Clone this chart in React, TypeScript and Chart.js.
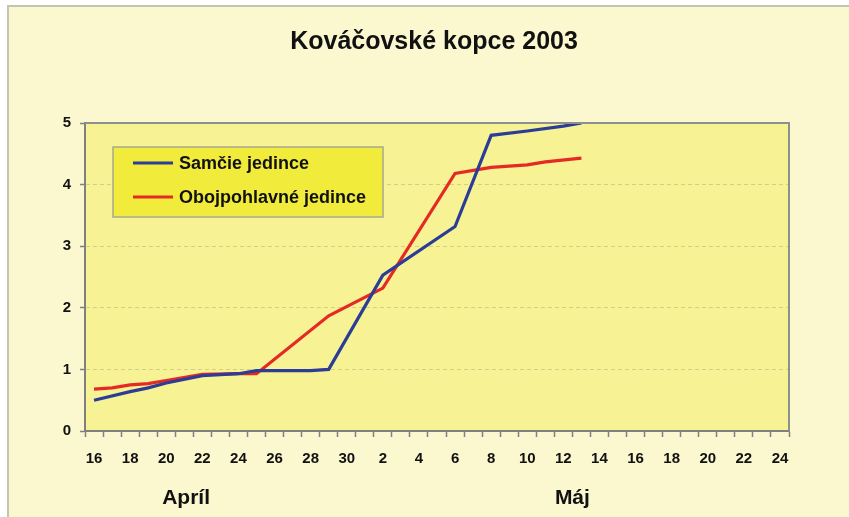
import { useEffect, useRef } from 'react';
import { Chart, registerables } from 'chart.js';

Chart.register(...registerables);

const chartTitle = 'Kováčovské kopce 2003';
const seriesNames = ['Samčie jedince', 'Obojpohlavné jedince'];
const monthLabels = ['Apríl', 'Máj'];
// category index (fractional) under which the month label is centred
const monthLabelAt = [5.1, 26.5];

const dayLabels = [
  '16', '17', '18', '19', '20', '21', '22', '23', '24', '25', '26', '27', '28', '29', '30',
  '1', '2', '3', '4', '5', '6', '7', '8', '9', '10', '11', '12', '13', '14', '15', '16',
  '17', '18', '19', '20', '21', '22', '23', '24',
];

const samcie = [
  0.5, null, 0.64, 0.7, 0.78, null, 0.9, null, 0.93, 0.98, null, null, 0.98, 1.0, null,
  null, 2.53, null, null, null, 3.32, null, 4.8, null, 4.87, null, 4.95, 5.0, null, null, null,
  null, null, null, null, null, null, null, null,
];

const obojpohlavne = [
  0.68, 0.7, 0.75, 0.77, 0.82, null, 0.92, null, 0.93, 0.93, null, null, null, 1.87, null,
  null, 2.32, null, null, null, 4.18, null, 4.28, null, 4.32, 4.37, null, 4.43, null, null, null,
  null, null, null, null, null, null, null, null,
];

const seriesColors = ['#2b3d96', '#e52a26'];

const FONT = '"Liberation Sans", Arial, sans-serif';

const decorPlugin = {
  id: 'decor',
  beforeDraw(chart: any) {
    const { ctx, width, height, chartArea } = chart;
    ctx.save();
    ctx.fillStyle = '#ffffff';
    ctx.fillRect(0, 0, width, height);
    ctx.fillStyle = '#fbf7cf';
    ctx.fillRect(8, 6, width - 8, height - 6);
    ctx.strokeStyle = '#c4c4b4';
    ctx.lineWidth = 2;
    ctx.beginPath();
    ctx.moveTo(8, height);
    ctx.lineTo(8, 6);
    ctx.lineTo(width, 6);
    ctx.stroke();
    ctx.fillStyle = '#f7f293';
    ctx.fillRect(chartArea.left, chartArea.top, chartArea.right - chartArea.left, chartArea.bottom - chartArea.top);
    ctx.restore();
  },
  afterDraw(chart: any) {
    const { ctx, chartArea } = chart;
    ctx.save();
    // top and right border of plot area
    ctx.strokeStyle = '#8f8f8f';
    ctx.lineWidth = 2;
    ctx.beginPath();
    ctx.moveTo(chartArea.left, chartArea.top);
    ctx.lineTo(chartArea.right, chartArea.top);
    ctx.lineTo(chartArea.right, chartArea.bottom);
    ctx.stroke();

    // title
    ctx.fillStyle = '#111111';
    ctx.font = `bold 25px ${FONT}`;
    ctx.textAlign = 'center';
    ctx.textBaseline = 'middle';
    ctx.fillText(chartTitle, 434, 42);

    // month labels
    const xs = chart.scales.x;
    ctx.font = `bold 21px ${FONT}`;
    monthLabels.forEach((m, i) => {
      ctx.fillText(m, xs.getPixelForValue(monthLabelAt[i]), 498);
    });

    // legend
    const lx = 113, ly = 147, lw = 270, lh = 70;
    ctx.fillStyle = '#f1ec3c';
    ctx.fillRect(lx, ly, lw, lh);
    ctx.strokeStyle = '#a8a890';
    ctx.lineWidth = 1.5;
    ctx.strokeRect(lx, ly, lw, lh);
    ctx.font = `bold 18px ${FONT}`;
    ctx.textAlign = 'left';
    chart.data.datasets.forEach((ds: any, i: number) => {
      const y = 163 + i * 34;
      ctx.strokeStyle = ds.borderColor;
      ctx.lineWidth = 3;
      ctx.beginPath();
      ctx.moveTo(133, y);
      ctx.lineTo(173, y);
      ctx.stroke();
      ctx.fillStyle = '#111111';
      ctx.fillText(ds.label, 179, y + 1);
    });
    ctx.restore();
  },
};

export default function App() {
  const ref = useRef<HTMLCanvasElement | null>(null);
  useEffect(() => {
    if (!ref.current) return;
    const chart = new Chart(ref.current, {
      type: 'line',
      data: {
        labels: dayLabels,
        datasets: [
          {
            label: seriesNames[0],
            data: samcie,
            borderColor: seriesColors[0],
            backgroundColor: seriesColors[0],
            borderWidth: 3.2,
            pointRadius: 0,
            tension: 0,
            spanGaps: true,
          },
          {
            label: seriesNames[1],
            data: obojpohlavne,
            borderColor: seriesColors[1],
            backgroundColor: seriesColors[1],
            borderWidth: 3.2,
            pointRadius: 0,
            tension: 0,
            spanGaps: true,
          },
        ],
      },
      options: {
        responsive: false,
        animation: false,
        layout: { padding: { left: 50, right: 60, top: 123, bottom: 46 } },
        plugins: {
          legend: { display: false },
          title: { display: false },
          tooltip: { enabled: false },
        },
        scales: {
          x: {
            type: 'category',
            offset: true,
            grid: {
              offset: true,
              drawOnChartArea: false,
              drawTicks: true,
              tickLength: 6,
              tickColor: '#808080',
              tickWidth: 1.5,
            },
            border: { display: true, color: '#808080', width: 2 },
            ticks: {
              autoSkip: false,
              maxRotation: 0,
              minRotation: 0,
              padding: 13,
              color: '#111111',
              font: { family: FONT, size: 15, weight: 'bold' },
              callback: (_v: any, i: number) => (i % 2 === 0 ? dayLabels[i] : ''),
            },
            afterFit: (s: any) => {
              s.height = 40;
            },
          },
          y: {
            min: 0,
            max: 5,
            ticks: {
              stepSize: 1,
              padding: 9,
              color: '#111111',
              font: { family: FONT, size: 15, weight: 'bold' },
            },
            grid: {
              color: (c: any) =>
                c.tick && (c.tick.value === 0 || c.tick.value === 5) ? 'rgba(0,0,0,0)' : 'rgba(160,155,110,0.4)',
              lineWidth: 1,
              drawTicks: true,
              tickLength: 5,
              tickColor: '#808080',
              tickWidth: 1.5,
            },
            border: { display: true, color: '#808080', width: 2, dash: [4, 3] },
            afterFit: (s: any) => {
              s.width = 35;
            },
          },
        },
      } as any,
      plugins: [decorPlugin],
    });
    return () => chart.destroy();
  }, []);

  return (
    <div style={{ position: 'absolute', left: 0, top: 0, width: 849, height: 517 }}>
      <canvas ref={ref} width={849} height={517} style={{ display: 'block' }} />
    </div>
  );
}
